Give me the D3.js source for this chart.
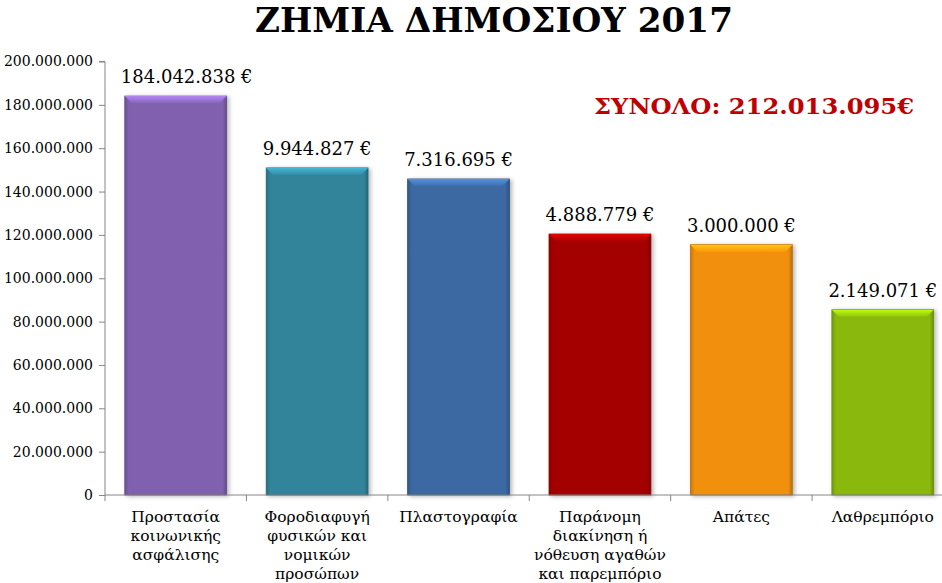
<!DOCTYPE html>
<html>
<head>
<meta charset="utf-8">
<script src="https://cdn.jsdelivr.net/npm/d3@7.8.5/dist/d3.min.js"></script>
<style>
  html, body { margin: 0; padding: 0; background: #fff; }
  svg { display: block; }
</style>
</head>
<body>
<svg id="chart" width="942" height="583"></svg>
<script>
// Chart data
const categories = [
    ['Προστασία', 'κοινωνικής', 'ασφάλισης'],
    ['Φοροδιαφυγή', 'φυσικών και', 'νομικών', 'προσώπων'],
    ['Πλαστογραφία'],
    ['Παράνομη', 'διακίνηση ή', 'νόθευση αγαθών', 'και παρεμπόριο'],
    ['Απάτες'],
    ['Λαθρεμπόριο']
];
// bar heights as drawn in the picture
const barValues = [184042838, 150900000, 145800000, 120400000, 115500000, 85500000];
// labels printed above the bars
const valueLabels = ['184.042.838 €', '9.944.827 €', '7.316.695 €', '4.888.779 €', '3.000.000 €', '2.149.071 €'];
const barColors = ['#8161b0', '#31849b', '#3c69a2', '#a50404', '#f0900b', '#8ab80b'];
const yTicks = [0, 20000000, 40000000, 60000000, 80000000, 100000000, 120000000, 140000000, 160000000, 180000000, 200000000];
const title = 'ΖΗΜΙΑ ΔΗΜΟΣΙΟΥ 2017';
const totalLabel = 'ΣΥΝΟΛΟ:  212.013.095€';

const svg = d3.select('#chart');
const serif = '"DejaVu Serif", "Liberation Serif", serif';
const axisColor = '#868686';

const x = d3.scaleBand()
    .domain(d3.range(categories.length))
    .range([105, 953.5])
    .paddingInner(0.28)
    .paddingOuter(0.14);

const y = d3.scaleLinear()
    .domain([0, 200000000])
    .range([495, 61.5]);

const fmt = v => d3.format(',')(v).replace(/,/g, '.');

// Gradients for bevelled bars
const defs = svg.append('defs');
barColors.forEach((c, i) => {
    const base = d3.color(c);
    const hl = defs.append('linearGradient')
        .attr('id', `hl${i}`)
        .attr('x1', 0).attr('y1', 0).attr('x2', 0).attr('y2', 1);
    hl.append('stop').attr('offset', '0%').attr('stop-color', base.brighter(0.9));
    hl.append('stop').attr('offset', '100%').attr('stop-color', base.brighter(0.15));
    const side = defs.append('linearGradient')
        .attr('id', `side${i}`)
        .attr('x1', 0).attr('y1', 0).attr('x2', 1).attr('y2', 0);
    side.append('stop').attr('offset', '0%').attr('stop-color', base.darker(0.5));
    side.append('stop').attr('offset', '4%').attr('stop-color', base);
    side.append('stop').attr('offset', '96%').attr('stop-color', base);
    side.append('stop').attr('offset', '100%').attr('stop-color', base.darker(0.7));
});
const shadow = defs.append('filter').attr('id', 'shadow')
    .attr('x', '-10%').attr('y', '-10%').attr('width', '130%').attr('height', '120%');
shadow.append('feDropShadow')
    .attr('dx', 2).attr('dy', 1).attr('stdDeviation', 2)
    .attr('flood-color', '#000').attr('flood-opacity', 0.3);

// Title
svg.append('text')
    .attr('x', 494)
    .attr('y', 32)
    .attr('text-anchor', 'middle')
    .attr('textLength', 478)
    .attr('lengthAdjust', 'spacingAndGlyphs')
    .style('font-family', serif)
    .style('font-weight', 'bold')
    .style('font-size', '34px')
    .style('fill', '#000')
    .text(title);

// Total
svg.append('text')
    .attr('x', 754)
    .attr('y', 114)
    .attr('text-anchor', 'middle')
    .attr('textLength', 320)
    .attr('lengthAdjust', 'spacingAndGlyphs')
    .style('font-family', serif)
    .style('font-weight', 'bold')
    .style('font-size', '23px')
    .style('fill', '#c00000')
    .text(totalLabel);

// Y axis
const yAxis = svg.append('g')
    .attr('transform', `translate(${x.range()[0]},0)`)
    .call(d3.axisLeft(y).tickValues(yTicks).tickFormat(fmt).tickSize(6).tickPadding(6));
yAxis.selectAll('path, line').attr('stroke', axisColor);
yAxis.select('.domain').attr('d', `M-6,${y(200000000)}H0V${y(0)}`);
yAxis.selectAll('text')
    .style('font-family', serif)
    .style('font-size', '14px')
    .style('fill', '#000');

// Bars
const bars = svg.append('g').selectAll('g')
    .data(barValues)
    .join('g')
    .attr('filter', 'url(#shadow)');

bars.append('rect')
    .attr('x', (d, i) => x(i))
    .attr('y', d => y(d))
    .attr('width', x.bandwidth())
    .attr('height', d => y(0) - y(d))
    .attr('fill', (d, i) => `url(#side${i})`)
    .attr('stroke', (d, i) => d3.color(barColors[i]).darker(0.8))
    .attr('stroke-width', 0.8);

// bevelled top strip
bars.append('path')
    .attr('d', (d, i) => {
        const x0 = x(i), x1 = x(i) + x.bandwidth(), t = y(d);
        return `M${x0},${t}H${x1}L${x1 - 7},${t + 7}H${x0 + 7}Z`;
    })
    .attr('fill', (d, i) => `url(#hl${i})`);

// Value labels (the first one is nudged right, clear of the axis)
svg.append('g').selectAll('text')
    .data(valueLabels)
    .join('text')
    .attr('x', (d, i) => x(i) + x.bandwidth() / 2 + (i === 0 ? 11 : 0))
    .attr('y', (d, i) => y(barValues[i]) - 13)
    .attr('text-anchor', 'middle')
    .style('font-family', serif)
    .style('font-size', '18px')
    .style('fill', '#000')
    .text(d => d);

// X axis baseline and ticks
const xAxis = svg.append('g');
xAxis.append('line')
    .attr('x1', x.range()[0]).attr('x2', x.range()[1])
    .attr('y1', y(0)).attr('y2', y(0))
    .attr('stroke', axisColor);
xAxis.selectAll('.xtick')
    .data(d3.range(categories.length + 1))
    .join('line')
    .attr('class', 'xtick')
    .attr('x1', i => x.range()[0] + i * x.step())
    .attr('x2', i => x.range()[0] + i * x.step())
    .attr('y1', y(0)).attr('y2', y(0) + 6)
    .attr('stroke', axisColor);

// Category labels
const cat = svg.append('g').selectAll('text')
    .data(categories)
    .join('text')
    .attr('x', (d, i) => x(i) + x.bandwidth() / 2)
    .attr('y', 522)
    .attr('text-anchor', 'middle')
    .style('font-family', serif)
    .style('font-size', '15.5px')
    .style('fill', '#000');
cat.selectAll('tspan')
    .data(d => d)
    .join('tspan')
    .attr('x', function () { return this.parentNode.getAttribute('x'); })
    .attr('dy', (d, j) => j === 0 ? 0 : 19)
    .text(d => d);
</script>
</body>
</html>
